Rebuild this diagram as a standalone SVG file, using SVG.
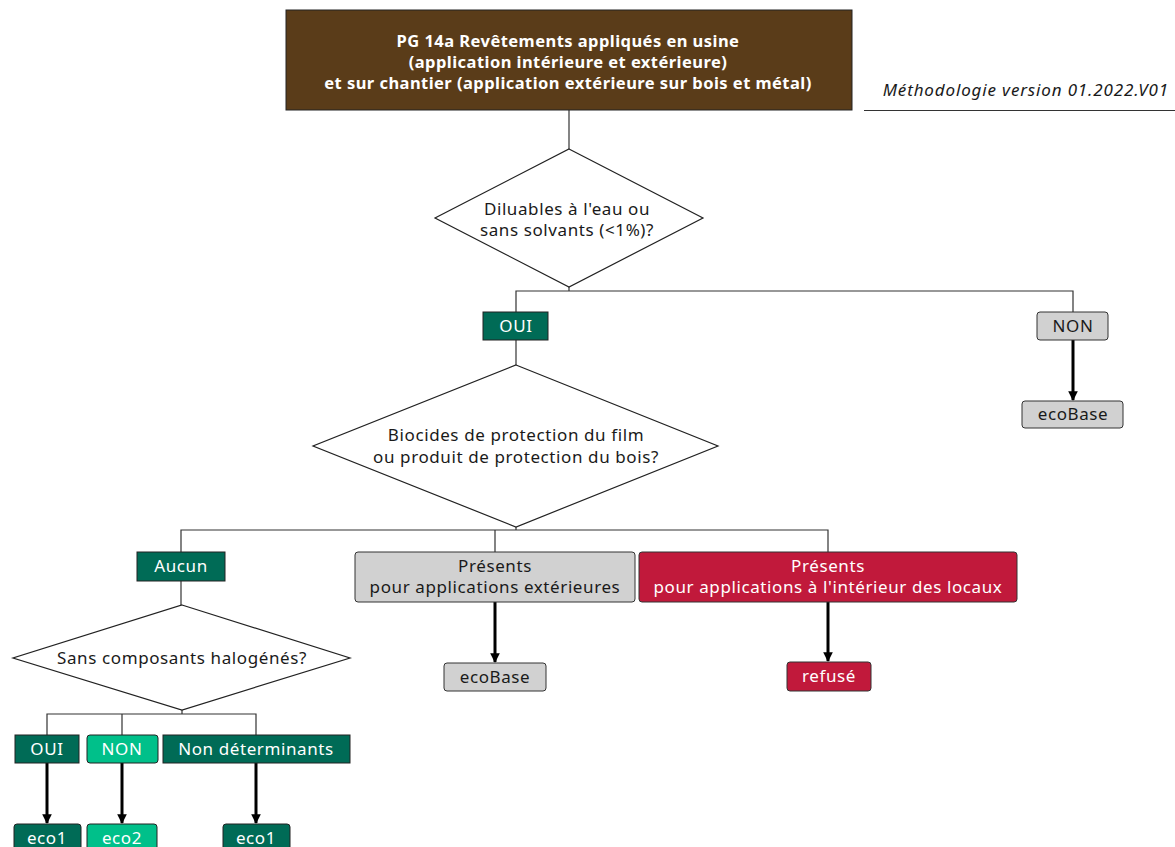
<svg xmlns="http://www.w3.org/2000/svg" width="1175" height="847" viewBox="0 0 1175 847">
<defs>
<style>
text{font-family:"Noto Sans","DejaVu Sans",sans-serif;font-size:17px;letter-spacing:0.6px;text-anchor:middle;}
.w{fill:#fff;}
.k{fill:#1a1a1a;}
.title{font-weight:bold;font-size:16.5px;letter-spacing:0.45px;}
.dg{fill:#006b56;stroke:#222;stroke-width:1;}
.lg{fill:#00c08a;stroke:#222;stroke-width:1;}
.gr{fill:#d1d1d1;stroke:#333;stroke-width:1;}
.rd{fill:#c1193b;stroke:#333;stroke-width:1;}
.dia{fill:#fff;stroke:#222;stroke-width:1.2;}
.thin{fill:none;stroke:#333;stroke-width:1.2;}
.arr{fill:none;stroke:#000;stroke-width:3;marker-end:url(#ah);}
</style>
<marker id="ah" viewBox="0 0 10 10" refX="9" refY="5" markerWidth="3.2" markerHeight="3.2" orient="auto" markerUnits="strokeWidth">
<path d="M0,0 L10,5 L0,10 z" fill="#000"/>
</marker>
</defs>
<rect width="1175" height="847" fill="#fff"/>

<g id="connectors">
<path class="thin" d="M569,110 V149"/>
<path class="thin" d="M569,287 V291 M516,312 V291 H1073 V312"/>
<path class="thin" d="M516,340 V365"/>
<path class="thin" d="M516,527 V530 M181,552 V530 H828 V552 M495,530 V552"/>
<path class="thin" d="M181,581 V605"/>
<path class="thin" d="M182,710 V714 M47,735 V714 H256 V735 M122,714 V735"/>
<path class="arr" d="M1073,340 V400"/>
<path class="arr" d="M495,602 V662"/>
<path class="arr" d="M828,602 V661"/>
<path class="arr" d="M47,763 V823"/>
<path class="arr" d="M122,763 V823"/>
<path class="arr" d="M256,763 V823"/>
</g>

<g id="title">
<rect x="286" y="10" width="566" height="100" fill="#5a3c19" stroke="#222" stroke-width="1"/>
<text class="w title" x="568" y="47">PG 14a Revêtements appliqués en usine</text>
<text class="w title" x="568" y="68">(application intérieure et extérieure)</text>
<text class="w title" x="568" y="89">et sur chantier (application extérieure sur bois et métal)</text>
</g>

<g id="version">
<text class="k" x="1169" y="96" style="text-anchor:end;font-style:italic;letter-spacing:0.85px">Méthodologie version 01.2022.V01</text>
<path d="M864,110.5 H1175" stroke="#333" stroke-width="1.2"/>
</g>

<g id="q1">
<polygon class="dia" points="569,149 703,218 569,287 435,218"/>
<text class="k" x="567" y="215">Diluables à l'eau ou</text>
<text class="k" x="567" y="236">sans solvants (&lt;1%)?</text>
</g>

<g id="oui1">
<rect class="dg" x="483" y="312" width="65" height="28"/>
<text class="w" x="516" y="332">OUI</text>
</g>

<g id="non1">
<rect class="gr" x="1037" y="312" width="71" height="28" rx="3"/>
<text class="k" x="1073" y="332">NON</text>
</g>

<g id="ecobase1">
<rect class="gr" x="1022" y="401" width="101" height="27" rx="3"/>
<text class="k" x="1073" y="420">ecoBase</text>
</g>

<g id="q2">
<polygon class="dia" points="516,365 718,446 516,527 313,446"/>
<text class="k" x="516" y="441">Biocides de protection du film</text>
<text class="k" x="516" y="463">ou produit de protection du bois?</text>
</g>

<g id="aucun">
<rect class="dg" x="137" y="552" width="88" height="29"/>
<text class="w" x="181" y="572">Aucun</text>
</g>

<g id="presents-ext">
<rect class="gr" x="355" y="552" width="280" height="50" rx="3"/>
<text class="k" x="495" y="572">Présents</text>
<text class="k" x="495" y="593">pour applications extérieures</text>
</g>

<g id="presents-int">
<rect class="rd" x="639" y="552" width="378" height="50" rx="3"/>
<text class="w" x="828" y="572">Présents</text>
<text class="w" x="828" y="593">pour applications à l'intérieur des locaux</text>
</g>

<g id="ecobase2">
<rect class="gr" x="444" y="663" width="102" height="28" rx="3"/>
<text class="k" x="495" y="683">ecoBase</text>
</g>

<g id="refuse">
<rect class="rd" x="787" y="662" width="84" height="29" rx="3"/>
<text class="w" x="829" y="682">refusé</text>
</g>

<g id="q3">
<polygon class="dia" points="182,605 350,658 182,710 13,658"/>
<text class="k" x="182" y="664">Sans composants halogénés?</text>
</g>

<g id="oui2">
<rect class="dg" x="15" y="735" width="64" height="28"/>
<text class="w" x="47" y="755">OUI</text>
</g>

<g id="non2">
<rect class="lg" x="87" y="735" width="71" height="28" rx="3"/>
<text class="w" x="122" y="755">NON</text>
</g>

<g id="nondet">
<rect class="dg" x="163" y="735" width="187" height="28"/>
<text class="w" x="256" y="755">Non déterminants</text>
</g>

<g id="eco1a">
<rect class="dg" x="14" y="824" width="67" height="30" rx="3"/>
<text class="w" x="47" y="844">eco1</text>
</g>

<g id="eco2">
<rect class="lg" x="87" y="824" width="70" height="30" rx="3"/>
<text class="w" x="122" y="844">eco2</text>
</g>

<g id="eco1b">
<rect class="dg" x="223" y="824" width="67" height="30" rx="3"/>
<text class="w" x="256" y="844">eco1</text>
</g>
</svg>
